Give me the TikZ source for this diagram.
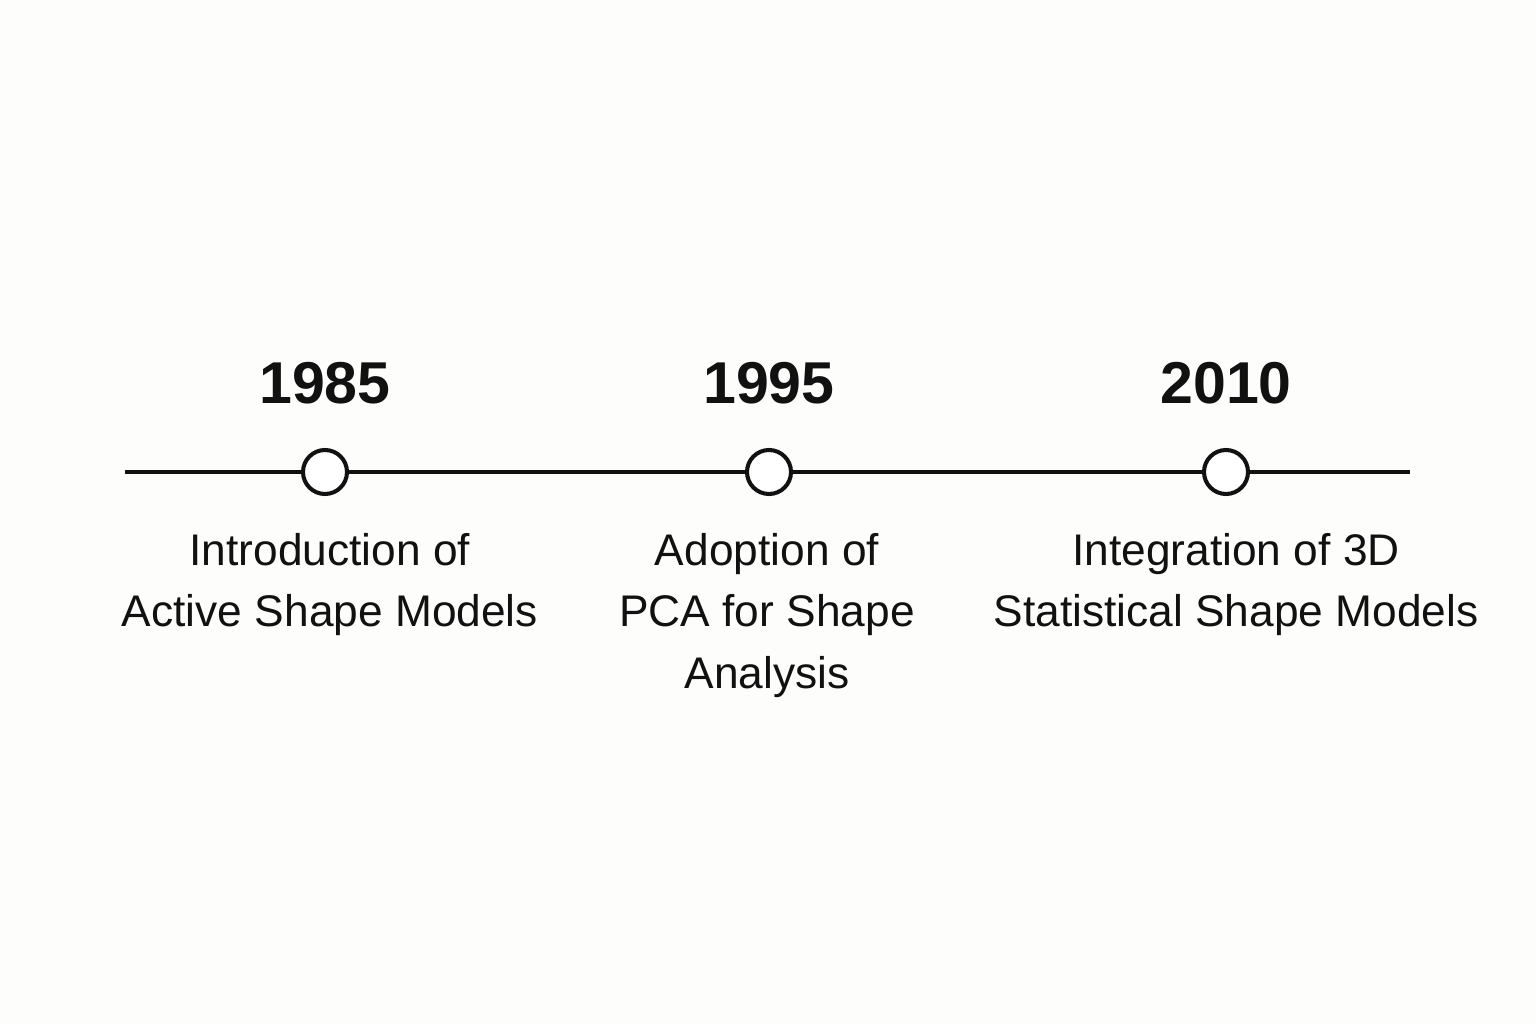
\documentclass[tikz,border=0pt]{standalone}
\usepackage{fontspec}
\setmainfont{Liberation Sans}
\usepackage{xcolor}
\definecolor{inkline}{HTML}{111111}
\definecolor{paperbg}{HTML}{FDFDFB}
\usetikzlibrary{positioning}

\begin{document}
\begin{tikzpicture}[line width=1.1pt, color=inkline,
  milestone/.style={circle, draw=inkline, fill=white, line width=1.15pt, minimum size=0.44cm, inner sep=0pt},
  yearlabel/.style={font=\bfseries\fontsize{16.8}{20}\selectfont, inner sep=0pt, text=inkline},
  eventlabel/.style={font=\fontsize{12.6}{17.6}\selectfont, align=center, inner sep=0pt, text=inkline}]
%%%%% Canvas %%%%%
\fill[paperbg] (0,0) rectangle (15.36,10.24);
\useasboundingbox (0,0) rectangle (15.36,10.24);
%%%%% Timeline %%%%%
\coordinate (tstart) at (1.25,5.52);
\coordinate (tend) at (14.10,5.52);
\draw (tstart) -- (tend);
\node[milestone] (c1) at (3.25,5.52) {};
\node[milestone] (c2) at (7.69,5.52) {};
\node[milestone] (c3) at (12.26,5.52) {};
%%%%% Years %%%%%
\node[yearlabel, above=0.42 of c1] (y1) {1985};
\node[yearlabel, above=0.42 of c2] (y2) {1995};
\node[yearlabel, above=0.42 of c3] (y3) {2010};
%%%%% Events %%%%%
\node[eventlabel, below=0.35 of c1, xshift=0.05cm] (e1) {Introduction of\\Active Shape Models};
\node[eventlabel, below=0.35 of c2, xshift=-0.02cm] (e2) {Adoption of\\PCA for Shape\\Analysis};
\node[eventlabel, below=0.35 of c3, xshift=0.1cm] (e3) {Integration of 3D\\Statistical Shape Models};
\end{tikzpicture}
\end{document}
